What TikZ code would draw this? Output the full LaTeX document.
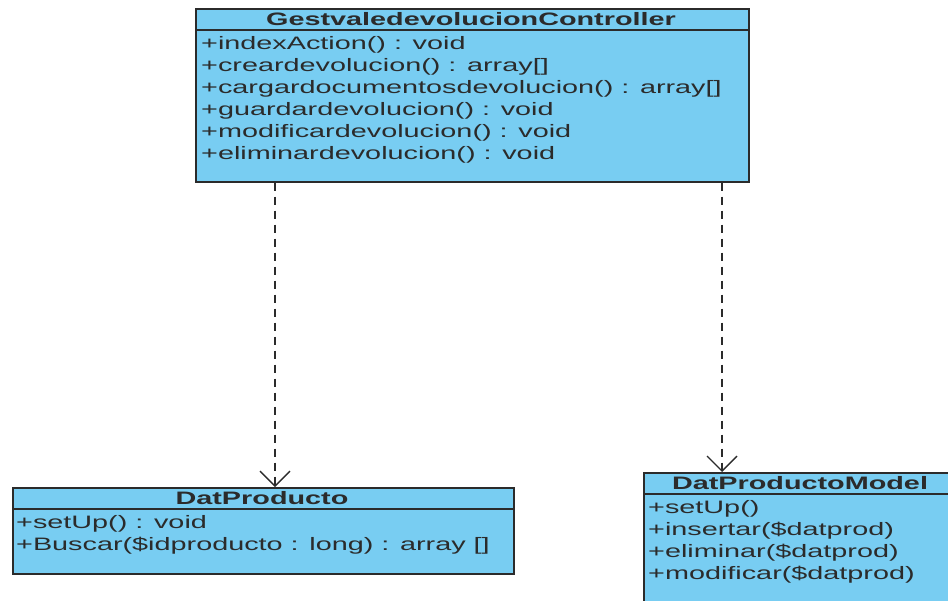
\documentclass[tikz,border=0pt]{standalone}
\usepackage{fontspec}
\setmainfont[FakeStretch=1.6]{Liberation Sans}
\usetikzlibrary{arrows.meta}
\definecolor{classfill}{HTML}{78CDF2}
\definecolor{classline}{HTML}{2B2B2B}

\begin{document}
\begin{tikzpicture}[
  x=1pt,
  y=-1pt,
  every node/.style={font=\fontsize{18}{22}\selectfont, inner sep=0pt},
  classbox/.style={draw=classline, fill=classfill, line width=1.6pt, anchor=north west},
  classname/.style={font=\fontsize{18}{22}\selectfont\bfseries, text=classline},
  methods/.style={align=left, anchor=north west, text=classline},
  depend/.style={classline, line width=2pt, dash pattern=on 8pt off 6pt,
    -{Straight Barb[length=15pt, width=30pt, line width=1.4pt]}}
]
  \useasboundingbox (0,0) rectangle (948,600);
  \clip (0,0) rectangle (948,600);

  % Controller
  \node[classbox, minimum width=553, minimum height=173] (ctrl) at (195,8) {};
  \draw[classline, line width=1.6pt] (195,30) -- (748,30);
  \node[classname] (ctrltitle) at (471,19) {GestvaledevolucionController};
  \node[methods] (ctrlops) at (201,36) {+indexAction() : void\\
    +creardevolucion() : array[]\\
    +cargardocumentosdevolucion() : array[]\\
    +guardardevolucion() : void\\
    +modificardevolucion() : void\\
    +eliminardevolucion() : void};

  % DatProducto
  \node[classbox, minimum width=501, minimum height=86] (prod) at (12,487) {};
  \draw[classline, line width=1.6pt] (12,509) -- (513,509);
  \node[classname] (prodtitle) at (262,498) {DatProducto};
  \node[methods] (prodops) at (16,515) {+setUp() : void\\
    +Buscar(\$idproducto : long) : array []};

  % DatProductoModel
  \node[classbox, minimum width=320, minimum height=150] (model) at (643,472) {};
  \draw[classline, line width=1.6pt] (643,494) -- (963,494);
  \node[classname] (modeltitle) at (800,483) {DatProductoModel};
  \node[methods] (modelops) at (648,500) {+setUp()\\
    +insertar(\$datprod)\\
    +eliminar(\$datprod)\\
    +modificar(\$datprod)};

  % dependencies
  \draw[depend] (ctrl.south -| 275,0) -- (prod.north -| 275,0);
  \draw[depend] (ctrl.south -| 722,0) -- (model.north -| 722,0);
\end{tikzpicture}
\end{document}
